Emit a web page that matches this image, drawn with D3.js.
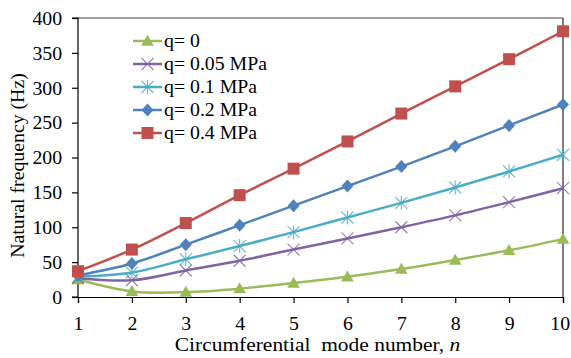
<!DOCTYPE html>
<html>
<head>
<meta charset="utf-8">
<script src="https://cdn.jsdelivr.net/npm/d3@7"></script>
<style>
  html, body { margin: 0; padding: 0; background: #fff; overflow: hidden; }
  svg { display: block; }
  text { font-family: "Liberation Serif", "Times New Roman", serif; fill: #000; }
</style>
</head>
<body>
<svg id="chart" width="571" height="358"></svg>
<script>
// Circumferential mode numbers
const modes = [1, 2, 3, 4, 5, 6, 7, 8, 9, 10];
const yTicks = [0, 50, 100, 150, 200, 250, 300, 350, 400];

// Natural frequency (Hz) per internal pressure q
const seriesNames = ["q= 0", "q= 0.05 MPa", "q= 0.1 MPa", "q= 0.2 MPa", "q= 0.4 MPa"];
const freqQ0    = [25, 8, 7, 12, 20, 29, 40, 53, 67, 83];
const freqQ005  = [27, 24, 38, 52, 68, 84, 100, 117, 136, 156];
const freqQ01   = [29, 35, 54, 73, 93, 114, 135, 157, 180, 204];
const freqQ02   = [31, 48, 75, 103, 131, 159, 187, 216, 246, 276];
const freqQ04   = [37, 68, 106, 146, 184, 223, 263, 302, 341, 381];

const seriesValues = [freqQ0, freqQ005, freqQ01, freqQ02, freqQ04];
const colors = ["#9BBB59", "#8064A2", "#4BACC6", "#4F81BD", "#C0504D"];
const markers = ["triangle", "cross", "star", "diamond", "square"];

// text is drawn slightly wide (horizontal stretch)
const STRETCH = 1.1;
const FONT = '"Liberation Serif", "Times New Roman", serif';

const svg = d3.select("#chart");
const margin = { left: 78, right: 8, top: 18, bottom: 61 };
const W = 571, H = 358;

const x = d3.scaleLinear().domain([1, 10]).range([margin.left, W - margin.right]);
const y = d3.scaleLinear().domain([0, 400]).range([H - margin.bottom, margin.top]);

// frame: top and right border
svg.append("line")
  .attr("x1", x(1)).attr("x2", x(10)).attr("y1", y(400)).attr("y2", y(400))
  .attr("stroke", "#808080").attr("stroke-width", 1.5);
svg.append("line")
  .attr("x1", x(10)).attr("x2", x(10)).attr("y1", y(400)).attr("y2", y(0))
  .attr("stroke", "#000").attr("stroke-width", 1);

// axes
const yAxis = d3.axisLeft(y).tickValues(yTicks).tickSize(6).tickPadding(8.5).tickFormat(d3.format("d"));
const xAxis = d3.axisBottom(x).tickValues(modes).tickSize(6).tickPadding(14).tickFormat(d3.format("d"));

const gy = svg.append("g").attr("transform", `translate(${x(1)},0)`).call(yAxis);
const gx = svg.append("g").attr("transform", `translate(0,${y(0)})`).call(xAxis);
[gy, gx].forEach(g => {
  g.select(".domain").attr("stroke", "#000").attr("stroke-width", 1.2);
  g.selectAll(".tick line").attr("stroke", "#000").attr("stroke-width", 1.2);
  g.selectAll(".tick text")
    .style("font-family", FONT)
    .style("font-size", "18px").attr("fill", "#000")
    .attr("transform", `scale(${STRETCH},1)`);
});
gy.select(".domain").attr("d", `M-6,${y(0)}H0V${y(400)}H-6`);
gy.selectAll(".tick text").attr("dy", "0.35em");
gx.selectAll(".tick text").attr("dy", "0.71em");
// keep the last label inside the right edge
gx.selectAll(".tick text").filter(d => d === 10).attr("x", -3);

// axis titles
svg.append("text")
  .attr("transform", `translate(24,${(y(0) + y(400)) / 2 + 8}) rotate(-90) scale(${STRETCH},1)`)
  .attr("text-anchor", "middle")
  .style("font-size", "18px")
  .text("Natural frequency (Hz)");

const xt = svg.append("text")
  .attr("transform", `translate(${(x(1) + x(10)) / 2 - 3},351) scale(${STRETCH},1)`)
  .attr("text-anchor", "middle")
  .style("font-size", "19.5px");
xt.append("tspan").attr("xml:space", "preserve").text("Circumferential  mode number, ");
xt.append("tspan").style("font-style", "italic").text("n");

// marker drawing
function drawMarker(g, type, color, cx, cy) {
  if (type === "triangle") {
    g.append("path").attr("d", d3.symbol(d3.symbolTriangle, 70)())
      .attr("transform", `translate(${cx},${cy + 1})`).attr("fill", color);
  } else if (type === "square") {
    g.append("rect").attr("x", cx - 6).attr("y", cy - 6).attr("width", 12).attr("height", 12)
      .attr("fill", color);
  } else if (type === "diamond") {
    g.append("path").attr("d", `M${cx},${cy - 6.5}L${cx + 6},${cy}L${cx},${cy + 6.5}L${cx - 6},${cy}Z`)
      .attr("fill", color);
  } else if (type === "cross") {
    const r = 6;
    g.append("path").attr("d", `M${cx - r},${cy - r}L${cx + r},${cy + r}M${cx - r},${cy + r}L${cx + r},${cy - r}`)
      .attr("stroke", color).attr("stroke-width", 1.2).attr("fill", "none").attr("opacity", 0.8);
  } else if (type === "star") {
    const r = 6;
    g.append("path").attr("d",
      `M${cx - r},${cy - r}L${cx + r},${cy + r}M${cx - r},${cy + r}L${cx + r},${cy - r}M${cx},${cy - r - 1}L${cx},${cy + r + 1}`)
      .attr("stroke", color).attr("stroke-width", 1.2).attr("fill", "none").attr("opacity", 0.8);
  }
}

const line = d3.line()
  .x((d, i) => x(modes[i]))
  .y(d => y(d))
  .curve(d3.curveCardinal.tension(0));

seriesValues.forEach((vals, s) => {
  const g = svg.append("g");
  g.append("path").datum(vals)
    .attr("d", line)
    .attr("fill", "none")
    .attr("stroke", colors[s])
    .attr("stroke-width", 2.5);
  vals.forEach((v, i) => drawMarker(g, markers[s], colors[s], x(modes[i]), y(v)));
});

// legend
const legendY = [41, 64, 87, 110, 133];
seriesNames.forEach((name, s) => {
  const g = svg.append("g");
  const ly = legendY[s];
  g.append("line").attr("x1", 133).attr("x2", 162).attr("y1", ly).attr("y2", ly)
    .attr("stroke", colors[s]).attr("stroke-width", 2.5);
  drawMarker(g, markers[s], colors[s], 147.5, ly);
  g.append("text")
    .attr("transform", `translate(164,${ly + 6}) scale(${STRETCH},1)`)
    .style("font-size", "18px").text(name);
});
</script>
</body>
</html>
